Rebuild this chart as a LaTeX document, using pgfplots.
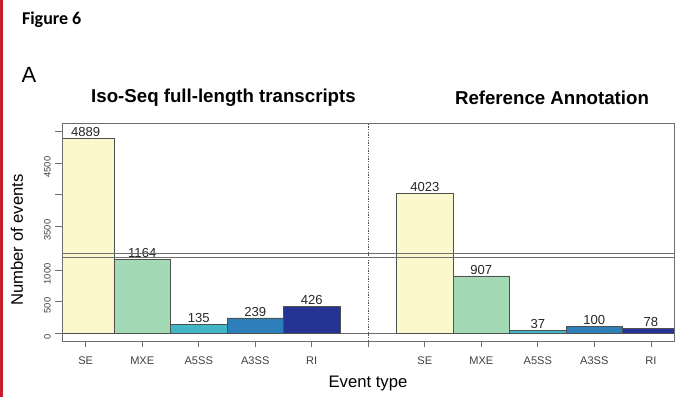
\documentclass[border=0pt]{standalone}
\usepackage{fontspec}
\setmainfont{Liberation Sans}
\newfontfamily\calibri{Carlito}
\usepackage{pgfplots}
\pgfplotsset{compat=1.18}
\definecolor{cSE}{HTML}{FCF8CE}
\definecolor{cMXE}{HTML}{A3D9B5}
\definecolor{cA5}{HTML}{41B6C4}
\definecolor{cA3}{HTML}{2C7FB8}
\definecolor{cRI}{HTML}{253494}
\definecolor{frame}{HTML}{6E6E6E}
\definecolor{edge}{HTML}{505050}
\definecolor{figred}{HTML}{C41E2D}
\pgfplotsset{
 panel/.style={scale only axis, width=459pt, xmin=-0.42, xmax=10.41,
   axis line style={draw=none}, xtick=\empty, ytick pos=left, tick align=outside,
   major tick length=5pt, tick style={frame, line width=0.5pt},
   yticklabel style={rotate=90, anchor=south, xshift=-3pt, font=\fontsize{7}{8}\selectfont, text=black!75},
   /pgf/number format/assume math mode=true, /pgf/number format/1000 sep={},
   clip mode=individual},
 bars/.style={ybar, bar width=1, bar shift=0pt, draw=edge, line width=0.5pt, fill=#1},
 vals/.style={nodes near coords, every node near coord/.append style={font=\fontsize{9.8}{11}\selectfont, text=black!85, anchor=south, inner sep=1pt}},
}
\begin{document}
\begin{tikzpicture}
\useasboundingbox (0,0) rectangle (511.5pt,297.75pt);
\fill[figred] (0,0) rectangle (2.5pt,297.75pt);
\node[anchor=west, font=\calibri\bfseries\fontsize{13.5}{15}\selectfont] at (13pt,282.75pt) {Figure 6};
\node[font=\fontsize{16.5}{18}\selectfont] at (21.75pt,241.5pt) {A};
\node[font=\bfseries\fontsize{14}{16}\selectfont] at (167.6pt,224.25pt) {Iso-Seq full-length transcripts};
\node[font=\bfseries\fontsize{14}{16}\selectfont] at (414pt,224.25pt) {Reference Annotation};
\node[rotate=90, font=\fontsize{12.5}{14}\selectfont] at (12.75pt,117.75pt) {Number of events};
\node[font=\fontsize{12.5}{14}\selectfont] at (276pt,10.5pt) {Event type};

% top panel
\begin{axis}[panel, at={(46.5pt,106.5pt)}, anchor=south west, height=99pt,
  ymin=3040, ymax=5135, ytick={3500,4000,4500,5000}, yticklabels={3500,,4500,}]
\addplot[bars=cSE, vals] coordinates {(0,4889) (6,4023)};
\end{axis}

% bottom panel
\begin{axis}[panel, at={(46.5pt,42pt)}, anchor=south west, height=64.5pt,
  ymin=-127, ymax=1238, ytick={0,500,1000}]
\draw[frame, line width=0.5pt] (axis cs:-0.42,0) -- (axis cs:10.41,0);
\addplot[bars=cSE] coordinates {(0,4889) (6,4023)};
\addplot[bars=cMXE, vals] coordinates {(1,1164) (7,907)};
\addplot[bars=cA5, vals] coordinates {(2,135) (8,37)};
\addplot[bars=cA3, vals] coordinates {(3,239) (9,100)};
\addplot[bars=cRI, vals] coordinates {(4,426) (10,78)};
\end{axis}

% frame
\begin{axis}[scale only axis, width=459pt, height=163.5pt, at={(46.5pt,42pt)}, anchor=south west,
  xmin=-0.42, xmax=10.41, ymin=0, ymax=1, ytick=\empty,
  xtick={0,...,10}, xticklabels={SE,MXE,A5SS,A3SS,RI,,SE,MXE,A5SS,A3SS,RI},
  xtick pos=left, tick align=outside, major tick length=4.5pt,
  tick style={frame, line width=0.5pt},
  axis line style={frame, line width=0.6pt},
  xticklabel style={yshift=-4pt, font=\fontsize{8.3}{9}\selectfont, text=black!75}]
\draw[edge, dash pattern=on 1pt off 1pt, line width=0.4pt] (axis cs:5,0) -- (axis cs:5,1);
\end{axis}
\draw[frame, line width=0.6pt] (46.5pt,108pt) -- (505.5pt,108pt);
\draw[frame, line width=0.6pt] (46.5pt,105pt) -- (505.5pt,105pt);
\end{tikzpicture}
\end{document}
